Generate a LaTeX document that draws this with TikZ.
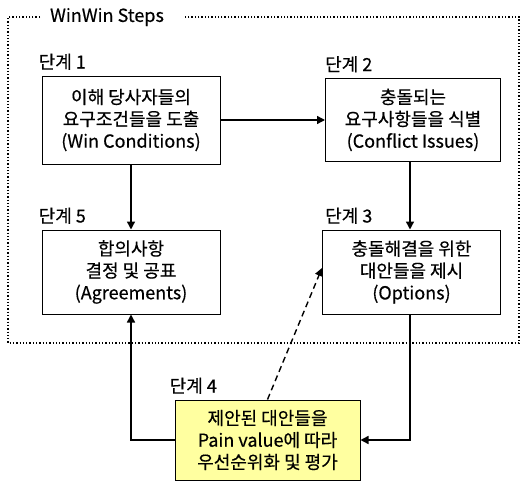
\documentclass[tikz,border=0pt]{standalone}
\usepackage{fontspec}
\setmainfont{Noto Sans CJK KR}[FakeBold=0.4]
\usetikzlibrary{arrows.meta,positioning,calc}
\definecolor{stepfill}{RGB}{255,255,160}

\begin{document}
\begin{tikzpicture}[x=1pt, y=-1pt,
  stepbox/.style={draw=black, fill=white, line width=1pt, align=center, font=\fontsize{18}{22}\selectfont,
                  minimum width=178pt, minimum height=88pt, inner sep=2pt},
  steplbl/.style={font=\fontsize{18}{20}\selectfont, inner sep=0pt, anchor=base west},
  arr/.style={-{Triangle[length=8pt,width=8pt]}, line width=1.4pt}
]
  \useasboundingbox (0,0) rectangle (525,482);
  % frame
  \node[font=\fontsize{18}{20}\selectfont, inner sep=0pt] (title) at (107,17) {WinWin Steps};
  \draw[dotted, line width=1.3pt] (40,17) -- (8,17) -- (8,343) -- (519,343) -- (519,17) -- (184,17);
  % steps
  \node[stepbox] (win) at (131,120) {이해 당사자들의\\요구조건들을 도출\\(Win Conditions)};
  \node[stepbox, minimum width=175pt, minimum height=83pt] (issue) at (413,120) {충돌되는\\요구사항들을 식별\\(Conflict Issues)};
  \node[stepbox, minimum height=84pt] (agree) at (131,272) {합의사항\\결정 및 공표\\(Agreements)};
  \node[stepbox, minimum height=84pt] (opt) at (411.5,272) {충돌해결을 위한\\대안들을 제시\\(Options)};
  \node[stepbox, fill=stepfill, minimum width=185pt, minimum height=80pt] (eval) at (267.5,440) {제안된 대안들을\\Pain value에 따라\\우선순위화 및 평가};
  % labels
  \node[steplbl] (l1) at ([xshift=-3pt,yshift=7pt]win.north west) {단계 1};
  \node[steplbl] (l2) at ([xshift=0pt,yshift=7pt]issue.north west) {단계 2};
  \node[steplbl] (l5) at ([xshift=-3pt,yshift=7pt]agree.north west) {단계 5};
  \node[steplbl] (l3) at ([xshift=3pt,yshift=7pt]opt.north west) {단계 3};
  \node[steplbl] (l4) at ([xshift=-5pt,yshift=7pt]eval.north west) {단계 4};
  % connectors
  \draw[arr] (win) -- (issue);
  \draw[arr] (win.south) -- (agree.north);
  \draw[arr] (issue.south -| 410,0) -- (opt.north -| 410,0);
  \draw[arr] (opt.south -| 410,0) |- (eval.east);
  \draw[arr] (eval.west) -| (agree.south);
  \draw[arr, dashed, dash pattern=on 6pt off 4pt] (eval.north) -- ([yshift=4pt]opt.west);
\end{tikzpicture}
\end{document}
